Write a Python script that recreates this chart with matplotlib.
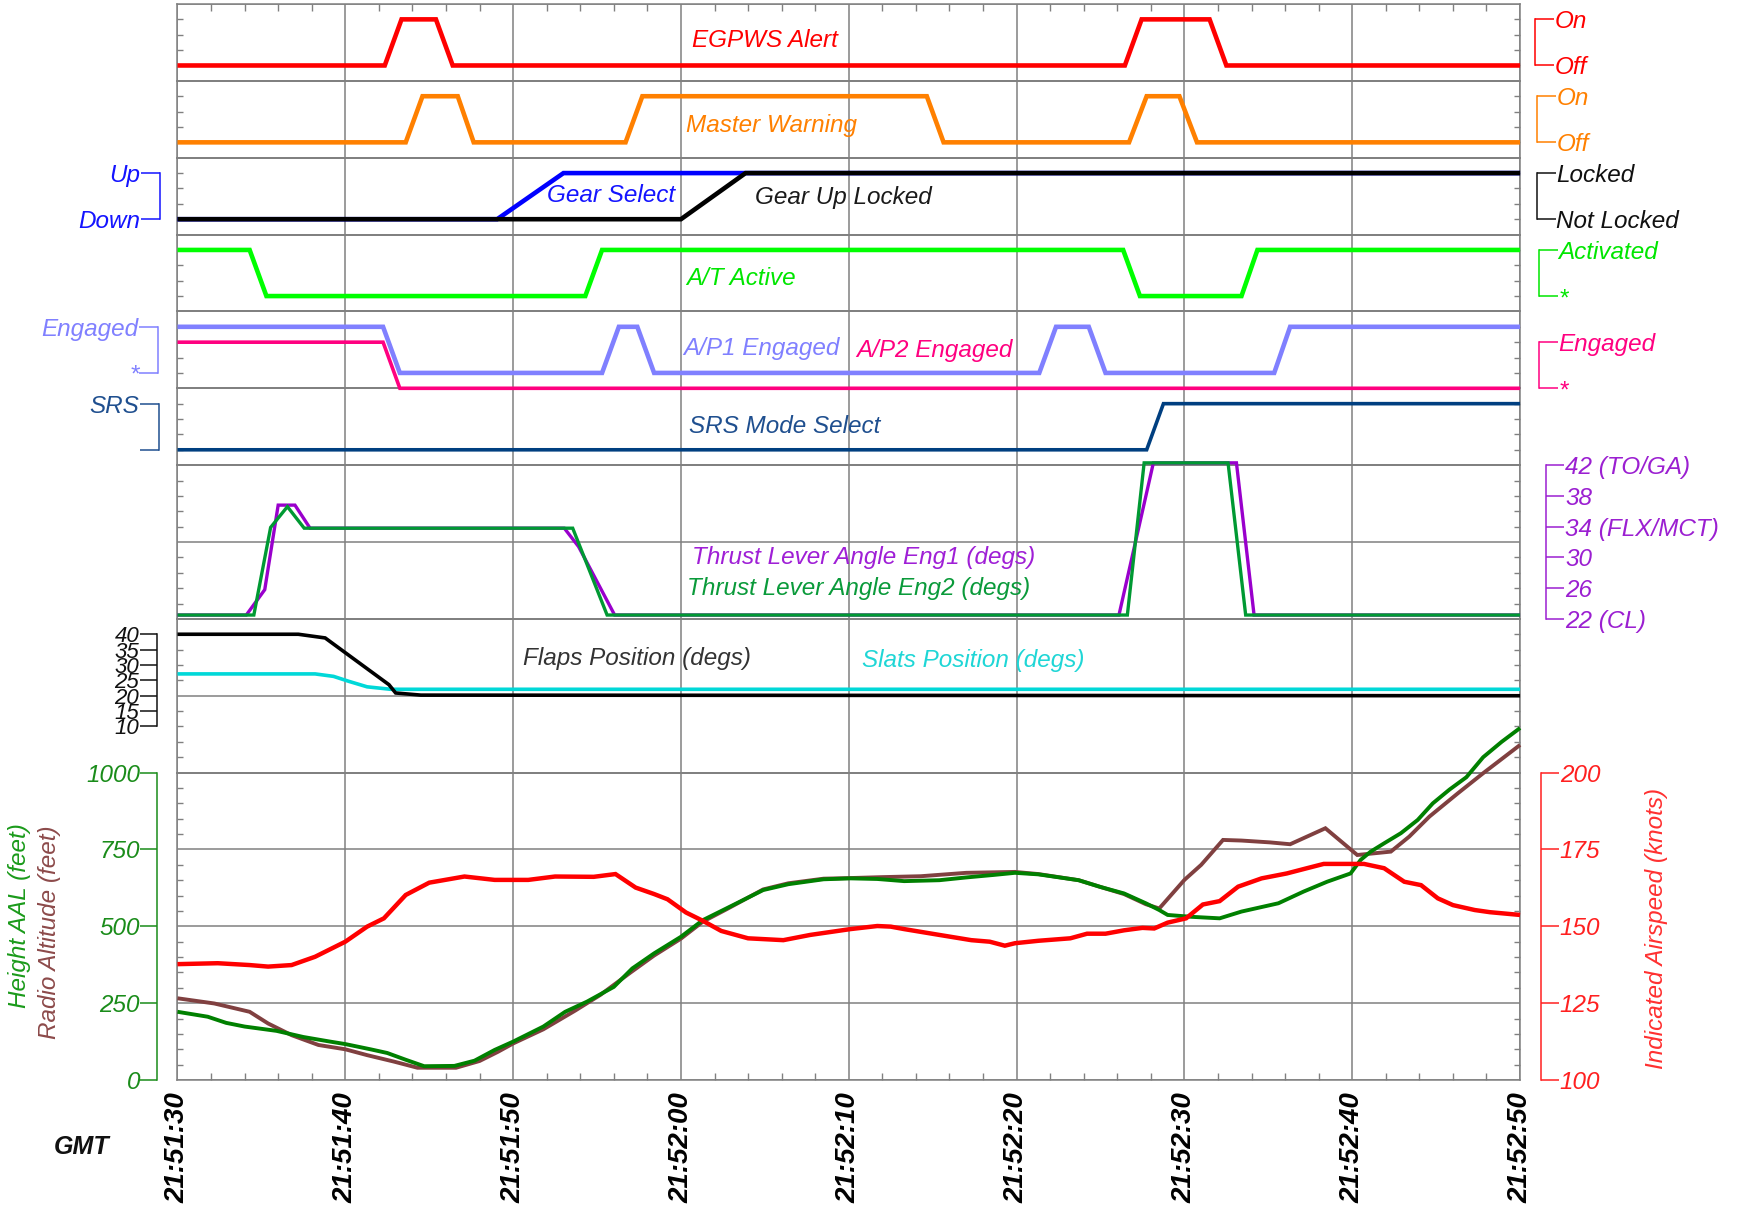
import matplotlib
matplotlib.use('Agg')
import matplotlib.pyplot as plt
from matplotlib.ticker import FixedLocator, MultipleLocator, NullLocator
from matplotlib.transforms import blended_transform_factory

plt.rcParams['font.family'] = ['Liberation Sans', 'DejaVu Sans']
plt.rcParams['font.style'] = 'italic'

# time axis: seconds after 21:51:30 GMT
time_ticks = [0, 10, 20, 30, 40, 50, 60, 70, 80]
time_labels = ['21:51:30', '21:51:40', '21:51:50', '21:52:00', '21:52:10',
               '21:52:20', '21:52:30', '21:52:40', '21:52:50']

# discrete parameters (0 = off / not engaged, 1 = on / engaged)
egpws_t = [0, 12.35, 13.35, 15.4, 16.4, 56.45, 57.45, 61.5, 62.5, 80]
egpws_v = [0, 0, 1, 1, 0, 0, 1, 1, 0, 0]

mw_t = [0, 13.6, 14.6, 16.7, 17.65, 26.7, 27.7, 44.65, 45.65, 56.7, 57.75, 59.7, 60.75, 80]
mw_v = [0, 0, 1, 1, 0, 0, 1, 1, 0, 0, 1, 1, 0, 0]

gear_sel_t = [0, 19.05, 23.0, 80]
gear_sel_v = [0, 0, 1, 1]
gear_lock_t = [0, 30.0, 33.85, 80]
gear_lock_v = [0, 0, 1, 1]

at_t = [0, 4.3, 5.3, 24.3, 25.3, 56.35, 57.35, 63.4, 64.35, 80]
at_v = [1, 1, 0, 0, 1, 1, 0, 0, 1, 1]

ap1_t = [0, 12.25, 13.25, 25.3, 26.3, 27.4, 28.4, 51.35, 52.35, 54.3, 55.3, 65.35, 66.3, 80]
ap1_v = [1, 1, 0, 0, 1, 1, 0, 0, 1, 1, 0, 0, 1, 1]
ap2_t = [0, 12.25, 13.25, 80]
ap2_v = [1, 1, 0, 0]

srs_t = [0, 57.75, 58.75, 80]
srs_v = [0, 0, 1, 1]

# thrust lever angles (degs)
tla1_t = [0, 4.1, 5.2, 6.0, 7.0, 7.9, 23.05, 23.9, 26.05, 56.1, 58.15, 63.1, 64.15, 80]
tla1_v = [22.5, 22.5, 25.8, 36.8, 36.8, 33.8, 33.8, 31.4, 22.5, 22.5, 42.3, 42.3, 22.5, 22.5]
tla2_t = [0, 4.55, 5.55, 6.55, 7.55, 23.55, 25.6, 56.6, 57.6, 62.6, 63.65, 80]
tla2_v = [22.5, 22.5, 33.9, 36.6, 33.8, 33.8, 22.5, 22.5, 42.3, 42.3, 22.5, 22.5]

# flaps / slats (degs)
flaps_t = [0, 7.2, 8.8, 12.6, 13.0, 14.5, 80]
flaps_v = [40, 40, 38.8, 23.6, 20.9, 20.2, 20]
slats_t = [0, 8.2, 9.3, 10.2, 11.3, 12.7, 80]
slats_v = [27.1, 27.1, 26.3, 24.7, 22.9, 22.1, 22.1]

# height AAL (feet)
hgt_t = [0, 1.8, 2.9, 4.0, 5.9, 7.5, 9.1, 10.0, 11.5, 12.5, 13.6, 14.7, 16.5, 17.7, 18.9,
         20.0, 21.8, 23.1, 24.4, 26.0, 27.1, 28.4, 30.0, 31.3, 32.7, 34.9, 36.4, 38.5,
         40.1, 41.7, 43.3, 45.4, 47.0, 48.6, 49.9, 51.3, 53.7, 55.0, 56.4, 57.7, 58.5,
         59.0, 60.4, 62.1, 63.4, 65.6, 67.1, 68.5, 69.9, 70.5, 71.1, 71.9, 72.9, 73.9,
         74.8, 75.8, 76.8, 77.8, 78.9, 80]
hgt_v = [222, 206, 186, 174, 160, 140, 125, 117, 100, 88, 66, 45, 46, 63, 98,
         125, 174, 222, 255, 303, 363, 412, 466, 520, 558, 618, 637, 653,
         656, 654, 647, 650, 659, 667, 674, 669, 650, 628, 607, 575, 553,
         537, 531, 526, 548, 575, 613, 645, 672, 716, 743, 770, 803, 846,
         900, 945, 985, 1050, 1100, 1145]

# radio altitude (feet)
ra_t = [0, 2.2, 4.3, 5.4, 6.8, 8.4, 10.0, 11.3, 12.9, 14.3, 16.6, 18.0, 19.1, 20.0,
        21.8, 23.7, 25.2, 27.0, 28.4, 30.0, 31.3, 32.7, 34.9, 36.4, 38.5, 40.1, 42.0,
        44.3, 47.0, 49.9, 51.3, 53.7, 55.0, 56.4, 57.7, 58.5, 60.0, 61.0, 62.3, 63.4,
        65.1, 66.3, 68.4, 70.3, 72.3, 73.4, 74.6, 76.3, 77.8, 80]
ra_v = [266, 249, 222, 184, 146, 114, 100, 81, 60, 40, 40, 62, 92, 119,
        165, 226, 277, 350, 405, 460, 515, 555, 620, 640, 655, 657, 660,
        663, 674, 677, 670, 650, 628, 605, 572, 558, 651, 700, 781, 779,
        773, 767, 819, 732, 743, 792, 857, 933, 998, 1090]

# indicated airspeed (knots)
ias_t = [0, 2.4, 4.3, 5.4, 6.8, 8.2, 10.0, 11.3, 12.3, 13.6, 15.0, 17.1, 18.9, 20.9,
         22.5, 24.8, 26.1, 27.3, 28.4, 29.2, 30.3, 31.3, 32.4, 34.0, 36.1, 37.7, 40.1,
         41.7, 42.5, 43.3, 45.4, 47.3, 48.4, 49.3, 49.9, 51.3, 53.2, 54.2, 55.3, 56.4,
         57.5, 58.2, 59.0, 60.1, 61.1, 62.1, 63.2, 64.6, 66.1, 67.3, 68.3, 70.7, 71.9,
         73.1, 74.1, 75.1, 76.0, 77.3, 78.2, 80]
ias_v = [137.7, 138.0, 137.4, 136.9, 137.4, 140.1, 145.0, 149.9, 152.6, 160.2, 164.2,
         166.2, 165.1, 165.1, 166.2, 166.1, 167.0, 162.6, 160.5, 158.8, 154.5, 151.8,
         148.5, 146.1, 145.5, 147.2, 149.1, 150.1, 149.9, 149.1, 147.2, 145.5, 145.0,
         143.7, 144.5, 145.3, 146.1, 147.6, 147.6, 148.7, 149.5, 149.3, 151.2, 152.6,
         157.1, 158.2, 162.9, 165.6, 167.2, 168.9, 170.3, 170.3, 168.9, 164.5, 163.4,
         159.1, 156.9, 155.3, 154.6, 153.7]

GRID = '#808080'
FS = 17.5
DISC = (-1 / 3, 4 / 3)

fig = plt.figure(figsize=(17.4, 12.1), dpi=100)
gs = fig.add_gridspec(9, 1, height_ratios=[1, 1, 1, 1, 1, 1, 2, 2, 4], hspace=0,
                      left=0.102, right=0.8736, top=0.9967, bottom=0.1074)
axes = [fig.add_subplot(gs[i]) for i in range(9)]
ax_eg, ax_mw, ax_gear, ax_at, ax_ap, ax_srs, ax_tla, ax_flap, ax_alt = axes

zorders = [10, 11, 12, 13, 15, 5, 16, 17, 18]
for ax, z in zip(axes, zorders):
    ax.set_zorder(z)
    ax.patch.set_visible(False)


def frame(ax, lo, hi, rows):
    ax.set_xlim(0, 80)
    ax.set_ylim(lo, hi)
    step = (hi - lo) / rows
    ax.yaxis.set_major_locator(FixedLocator([lo + step * i for i in range(rows + 1)]))
    ax.yaxis.set_minor_locator(FixedLocator(
        [lo + step * i + step * k / 5 for i in range(rows) for k in range(1, 5)]))
    ax.xaxis.set_major_locator(FixedLocator(time_ticks))
    ax.xaxis.set_minor_locator(MultipleLocator(2))
    ax.grid(True, which='major', color=GRID, lw=1.1)
    ax.tick_params(which='both', direction='in', left=True, right=True, top=False,
                   bottom=False, labelleft=False, labelright=False, labelbottom=False,
                   color=GRID)
    ax.tick_params(which='major', length=0)
    ax.tick_params(which='minor', length=4.5, width=1)
    for s in ax.spines.values():
        s.set_color(GRID)
        s.set_linewidth(1.1)


def bracket(ax, side, ylim, ticks, labels, color, offset, length=13.5, size=FS):
    b = ax.twinx()
    b.set_zorder(ax.get_zorder() + 0.5)
    b.patch.set_visible(False)
    b.set_ylim(ylim)
    for name, sp in b.spines.items():
        sp.set_visible(name == side)
    sp = b.spines[side]
    sp.set_position(('outward', offset))
    sp.set_bounds(ticks[0], ticks[-1])
    sp.set_color(color)
    sp.set_linewidth(1.1)
    b.yaxis.set_ticks_position(side)
    b.set_yticks(ticks, labels)
    b.yaxis.set_minor_locator(NullLocator())
    b.tick_params(axis='y', direction='out', length=length, width=1.1, color=color,
                  labelcolor=color, labelsize=size, pad=0.5)
    return b


def trace(ax, t, v, color, lw):
    ax.plot(t, v, color=color, lw=lw, clip_on=False, zorder=3,
            solid_capstyle='butt', solid_joinstyle='miter')


def label(ax, t, yf, text, color):
    tr = blended_transform_factory(ax.transData, ax.transAxes)
    ax.text(t, yf, text, transform=tr, ha='center', va='center', color=color,
            fontsize=FS, zorder=4)


for ax in axes[:6]:
    frame(ax, DISC[0], DISC[1], 1)
frame(ax_tla, 22, 42, 2)
frame(ax_flap, -5, 45, 2)
frame(ax_alt, 0, 1000, 4)

# EGPWS
bracket(ax_eg, 'right', DISC, [0, 1], ['Off', 'On'], '#ff0000', 11)
trace(ax_eg, egpws_t, egpws_v, '#ff0000', 3.3)
label(ax_eg, 35.0, 0.53, 'EGPWS Alert', '#ff0000')

# Master warning
bracket(ax_mw, 'right', DISC, [0, 1], ['Off', 'On'], '#ff8000', 12.5)
trace(ax_mw, mw_t, mw_v, '#ff8000', 3.3)
label(ax_mw, 35.4, 0.42, 'Master Warning', '#ff8000')

# Gear
bracket(ax_gear, 'left', DISC, [0, 1], ['Down', 'Up'], '#1414ff', 12.5)
bracket(ax_gear, 'right', DISC, [0, 1], ['Not Locked', 'Locked'], '#111111', 12)
trace(ax_gear, gear_sel_t, gear_sel_v, '#0000ff', 3.3)
trace(ax_gear, gear_lock_t, gear_lock_v, '#000000', 3.3)
label(ax_gear, 25.85, 0.51, 'Gear Select', '#1414ff')
label(ax_gear, 39.7, 0.48, 'Gear Up Locked', '#1a1a1a')

# A/T
bracket(ax_at, 'right', DISC, [0, 1], ['*', 'Activated'], '#00e600', 13.5)
trace(ax_at, at_t, at_v, '#00ff00', 3.3)
label(ax_at, 33.6, 0.43, 'A/T Active', '#00e600')

# Autopilots
bracket(ax_ap, 'left', DISC, [0, 1], ['*', 'Engaged'], '#8080ff', 14)
ap2 = bracket(ax_ap, 'right', (0, 5 / 3), [0, 1], ['*', 'Engaged'], '#ff0080', 13.5)
trace(ax_ap, ap1_t, ap1_v, '#8080ff', 3.3)
trace(ap2, ap2_t, ap2_v, '#ff0080', 2.6)
label(ax_ap, 34.8, 0.52, 'A/P1 Engaged', '#8080ff')
label(ax_ap, 45.1, 0.49, 'A/P2 Engaged', '#ff0080')

# SRS
bracket(ax_srs, 'left', DISC, [0, 1], ['', 'SRS'], '#1f4f8f', 13.5)
trace(ax_srs, srs_t, srs_v, '#003f80', 2.6)
label(ax_srs, 36.2, 0.505, 'SRS Mode Select', '#1f4f8f')

# Thrust lever angles
bracket(ax_tla, 'right', (22, 42), [22, 26, 30, 34, 38, 42],
        ['22 (CL)', '26', '30', '34 (FLX/MCT)', '38', '42 (TO/GA)'], '#9b1fd1', 19, 13)
trace(ax_tla, tla1_t, tla1_v, '#9900cc', 2.4)
trace(ax_tla, tla2_t, tla2_v, '#009933', 2.4)
label(ax_tla, 40.9, 0.40, 'Thrust Lever Angle Eng1 (degs)', '#9f1fd6')
label(ax_tla, 40.6, 0.20, 'Thrust Lever Angle Eng2 (degs)', '#0a9a3a')

# Flaps / slats
bracket(ax_flap, 'left', (-5, 45), [10, 15, 20, 25, 30, 35, 40],
        ['10', '15', '20', '25', '30', '35', '40'], '#111111', 15, 12, size=16)
trace(ax_flap, slats_t, slats_v, '#00d8d8', 2.6)
trace(ax_flap, flaps_t, flaps_v, '#000000', 2.6)
label(ax_flap, 27.4, 0.74, 'Flaps Position (degs)', '#333333')
label(ax_flap, 47.4, 0.73, 'Slats Position (degs)', '#1fd6d6')

# Heights and airspeed
bracket(ax_alt, 'left', (0, 1000), [0, 250, 500, 750, 1000],
        ['0', '250', '500', '750', '1000'], '#1a8c1a', 14.5, 12)
ias = bracket(ax_alt, 'right', (100, 200), [100, 125, 150, 175, 200],
              ['100', '125', '150', '175', '200'], '#ff2020', 15, 13)
trace(ax_alt, ra_t, ra_v, '#804040', 2.8)
trace(ax_alt, hgt_t, hgt_v, '#008000', 2.8)
trace(ias, ias_t, ias_v, '#ff0000', 3.2)

# parent axes lose their right-hand ticks when twinned; restore them
for ax in axes:
    ax.tick_params(which='both', left=True, right=True, labelleft=False, labelright=False)
ax_eg.tick_params(axis='x', which='minor', top=True, length=5)
ax_alt.tick_params(axis='x', which='minor', bottom=True, length=5)
ax_alt.tick_params(axis='x', which='major', labelbottom=True, pad=9)
ax_alt.set_xticks(time_ticks, time_labels)
for lab in ax_alt.get_xticklabels():
    lab.set_rotation(90)
    lab.set_fontsize(20)
    lab.set_fontweight('bold')
    lab.set_fontstyle('italic')
    lab.set_va('top')

fig.text(0.011, 0.243, 'Height AAL (feet)', rotation=90, ha='center', va='center',
         color='#1a9a1a', fontsize=FS)
fig.text(0.0287, 0.23, 'Radio Altitude (feet)', rotation=90, ha='center', va='center',
         color='#8c4a4a', fontsize=FS)
fig.text(0.952, 0.233, 'Indicated Airspeed (knots)', rotation=90, ha='center',
         va='center', color='#ff3030', fontsize=FS)
fig.text(0.047, 0.052, 'GMT', ha='center', va='center', fontsize=18,
         fontweight='bold', color='#111111')

fig.savefig('out.png', dpi=100, facecolor='white')
